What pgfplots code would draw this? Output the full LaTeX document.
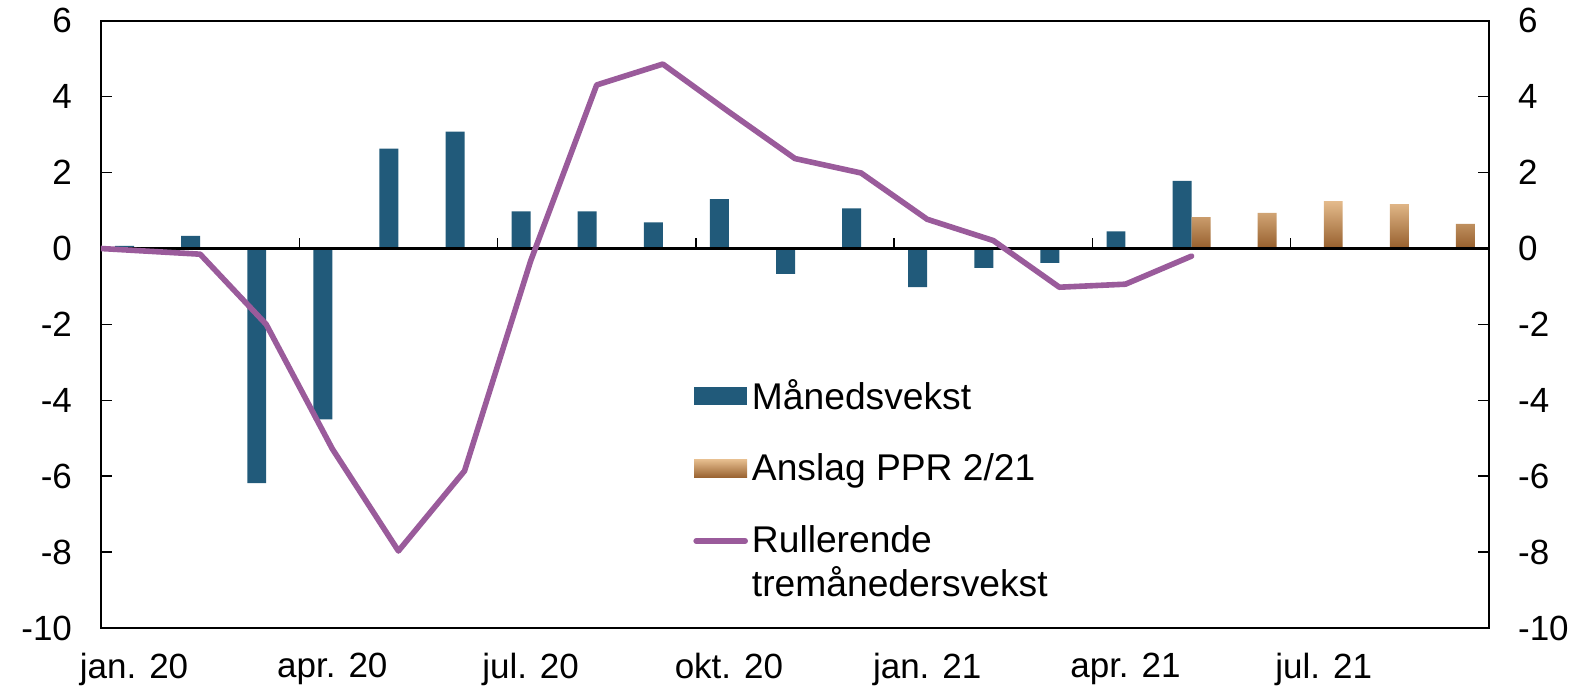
\documentclass[border=0pt]{standalone}
\usepackage{pgfplots}
\pgfplotsset{compat=1.18}
\usepackage{fontspec}
\setmainfont{Liberation Sans}
\definecolor{barblue}{RGB}{33,90,122}
\definecolor{linepurple}{RGB}{154,91,155}
\definecolor{orTop}{RGB}{228,187,140}
\definecolor{orMid}{RGB}{210,140,66}
\definecolor{orBot}{RGB}{150,95,45}
\begin{document}
\begin{tikzpicture}
\pgfplotsset{
  myframe/.style={
    at={(0,0)}, anchor=south west,
    scale only axis, width=694pt, height=303.6pt,
    xmin=-0.5, xmax=20.5, ymin=-10, ymax=6,
    ytick={-10,-8,-6,-4,-2,0,2,4,6},
    yticklabels={-10,-8,-6,-4,-2,0,2,4,6},
    tick label style={font=\fontsize{17.5}{21}\selectfont},
  }
}
\begin{axis}[myframe,
  axis line style={line width=0.75pt},
  xtick={0,3,6,9,12,15,18},
  xticklabels={jan. 20, apr. 20, jul. 20, okt. 20, jan. 21, apr. 21, jul. 21},
  x tick style={draw=none},
  y tick style={black, line width=0.75pt},
  tick align=inside, major tick length=5.5pt,
  ytick pos=both, yticklabel pos=left,
  yticklabel style={xshift=-11pt},
  xticklabel style={yshift=-9.2pt},
  legend style={at={(0.4265,0.414)}, anchor=north west, draw=none, fill=none,
    inner sep=0pt, row sep=19pt, font=\fontsize{18.6}{22}\selectfont,
    nodes={inner xsep=2pt, inner ysep=1pt},
    cells={anchor=west}},
  legend cell align=left,
]
\addplot[ybar, bar width=0.287, bar shift=-0.1435, fill=barblue, draw=none,
  legend image code/.code={\fill[barblue] (0pt,-4.5pt) rectangle (26.5pt,4.5pt);}]
  coordinates {
  (0,0.07) (1,0.33) (2,-6.18) (3,-4.5) (4,2.63) (5,3.08) (6,0.98) (7,0.98)
  (8,0.69) (9,1.30) (10,-0.67) (11,1.06) (12,-1.02) (13,-0.51) (14,-0.38)
  (15,0.45) (16,1.78)};
\addlegendentry{Månedsvekst}
\addplot[ybar, bar width=0.287, bar shift=0.1435, draw=none,
  shading=axis, top color=orTop, middle color=orMid, bottom color=orBot,
  legend image code/.code={\fill[shading=axis, top color=orTop, middle color=orMid, bottom color=orBot] (0pt,-4.5pt) rectangle (26.5pt,4.5pt);}]
  coordinates {(16,0.83) (17,0.94) (18,1.25) (19,1.17) (20,0.65)};
\addlegendentry{Anslag PPR 2/21}
\addplot[black, line width=1.35pt, forget plot] coordinates {(-0.5,0) (20.5,0)};
\addplot[linepurple, line width=2.8pt, line join=round, line cap=round,
  legend image code/.code={\draw[linepurple, line width=2.8pt, line cap=round] (1pt,0pt) -- (25.5pt,0pt);}]
  coordinates {
  (-0.5,0) (0,-0.05) (1,-0.15) (2,-2.0) (3,-5.28) (4,-7.97) (5,-5.86) (6,-0.33)
  (7,4.31) (8,4.86) (9,3.6) (10,2.37) (11,1.99) (12,0.77) (13,0.21)
  (14,-1.02) (15,-0.94) (16,-0.2)};
\addlegendentry{\rlap{\raisebox{-22pt}[0pt][0pt]{tremånedersvekst}}Rullerende}
\pgfplotsinvokeforeach{2.5,5.5,8.5,11.5,14.5,17.5}{
  \draw[black, line width=0.75pt] (axis cs:#1,0) -- ([yshift=5.5pt]axis cs:#1,0);
}
\end{axis}
\begin{axis}[myframe,
  axis x line=none, axis y line*=right,
  axis line style={line width=0.75pt},
  major tick length=0pt,
  yticklabel style={xshift=11pt},
]
\end{axis}
\pgfresetboundingbox
\path (-50.5pt,-32.5pt) rectangle (742pt,314pt);
\end{tikzpicture}
\end{document}
